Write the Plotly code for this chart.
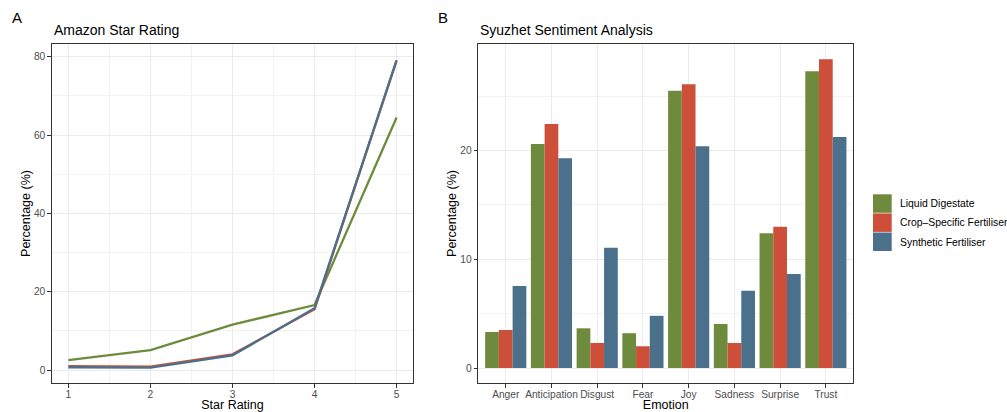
import plotly.graph_objects as go

W, H = 1007, 412

# ---------------- data ----------------
star_ratings = [1, 2, 3, 4, 5]
series_names = ["Liquid Digestate", "Crop\u2013Specific Fertiliser", "Synthetic Fertiliser"]
star_liquid = [2.5, 5.1, 11.6, 16.6, 64.5]
star_crop = [1.0, 0.85, 4.0, 15.5, 79.1]
star_synth = [0.7, 0.6, 3.75, 15.8, 79.1]

emotions = ["Anger", "Anticipation", "Disgust", "Fear", "Joy", "Sadness", "Surprise", "Trust"]
emo_liquid = [3.3, 20.6, 3.65, 3.2, 25.5, 4.05, 12.4, 27.3]
emo_crop = [3.5, 22.45, 2.3, 2.0, 26.1, 2.3, 13.0, 28.4]
emo_synth = [7.55, 19.3, 11.05, 4.8, 20.4, 7.1, 8.65, 21.25]

colors = ["#6E8B3D", "#CD4F39", "#4A708B"]

FONT = "Liberation Sans, Arial, Helvetica, sans-serif"
TICK_COLOR = "#4D4D4D"
BORDER = "#333333"
GRID = "#EBEBEB"

fig = go.Figure()

for name, ys, c in zip(series_names, [star_liquid, star_crop, star_synth], colors):
    fig.add_trace(go.Scatter(x=star_ratings, y=ys, mode="lines", name=name,
                             line=dict(color=c, width=2.3), xaxis="x", yaxis="y",
                             showlegend=False))

for name, ys, c in zip(series_names, [emo_liquid, emo_crop, emo_synth], colors):
    fig.add_trace(go.Bar(x=emotions, y=ys, name=name, marker=dict(color=c, line=dict(width=0)),
                         xaxis="x2", yaxis="y2", showlegend=False))

def px_x(p):
    return p / W

def px_y(p):
    return 1 - p / H

ydom = [px_y(383), px_y(44)]

common = dict(showline=True, mirror=True, linecolor=BORDER, linewidth=1.3,
              ticks="outside", ticklen=3.5, tickwidth=1, tickcolor=BORDER,
              tickfont=dict(family=FONT, size=10.2, color=TICK_COLOR),
              tickangle=0, automargin=False,
              showgrid=True, gridcolor=GRID, gridwidth=1.2, zeroline=False,
              title_font=dict(family=FONT, size=12.5, color="#000000"))

fig.update_layout(
    width=W, height=H,
    margin=dict(l=0, r=0, t=0, b=0),
    paper_bgcolor="white", plot_bgcolor="white",
    barmode="group", bargap=0.1, bargroupgap=0,
    font=dict(family=FONT),
    xaxis=dict(domain=[px_x(52), px_x(413)], range=[0.8, 5.2], tickmode="linear", tick0=1, dtick=1,
               minor=dict(showgrid=True, gridcolor="#F2F2F2", gridwidth=0.7, tick0=0.5, dtick=0.5),
               ticklabelstandoff=-2,
               title=dict(text="Star Rating", standoff=6), anchor="y", **common),
    yaxis=dict(domain=ydom, range=[-3.32, 83.27], tickmode="linear", tick0=0, dtick=20,
               minor=dict(showgrid=True, gridcolor="#F2F2F2", gridwidth=0.7, tick0=0, dtick=10),
               title=dict(text="Percentage (%)", standoff=0), anchor="x", **common),
    xaxis2=dict(domain=[px_x(478.3), px_x(853.3)], range=[-0.6, 7.6], type="category",
                ticklabelstandoff=-2,
                title=dict(text="Emotion", standoff=6), anchor="y2", **common),
    yaxis2=dict(domain=ydom, range=[-1.38, 29.8], tickmode="linear", tick0=0, dtick=10,
                minor=dict(showgrid=True, gridcolor="#F2F2F2", gridwidth=0.7, tick0=0, dtick=5),
                title=dict(text="Percentage (%)", standoff=0), anchor="x2", **common),
)

annotations = [
    dict(text="A", x=px_x(10), y=px_y(18), xanchor="left", yanchor="middle",
         font=dict(family=FONT, size=15, color="black")),
    dict(text="B", x=px_x(436), y=px_y(18), xanchor="left", yanchor="middle",
         font=dict(family=FONT, size=15, color="black")),
    dict(text="Amazon Star Rating", x=px_x(52), y=px_y(30), xanchor="left", yanchor="middle",
         font=dict(family=FONT, size=14, color="black")),
    dict(text="Syuzhet Sentiment Analysis", x=px_x(478), y=px_y(30), xanchor="left", yanchor="middle",
         font=dict(family=FONT, size=14, color="black")),
]

# legend (keys + labels)
shapes = []
key_top = 194.3
key_h = 19.1
for i, (name, c) in enumerate(zip(series_names, colors)):
    t = key_top + i * key_h
    shapes.append(dict(type="rect", xref="paper", yref="paper",
                       x0=px_x(873), x1=px_x(891.7), y0=px_y(t + key_h - 0.6), y1=px_y(t),
                       fillcolor=c, line=dict(width=0)))
    annotations.append(dict(text=name, x=px_x(898), y=px_y(t + key_h / 2), xanchor="left",
                            yanchor="middle", font=dict(family=FONT, size=10.4, color="black")))

for a in annotations:
    a.update(xref="paper", yref="paper", showarrow=False)

fig.update_layout(annotations=annotations, shapes=shapes)

fig.write_html("out.html")
